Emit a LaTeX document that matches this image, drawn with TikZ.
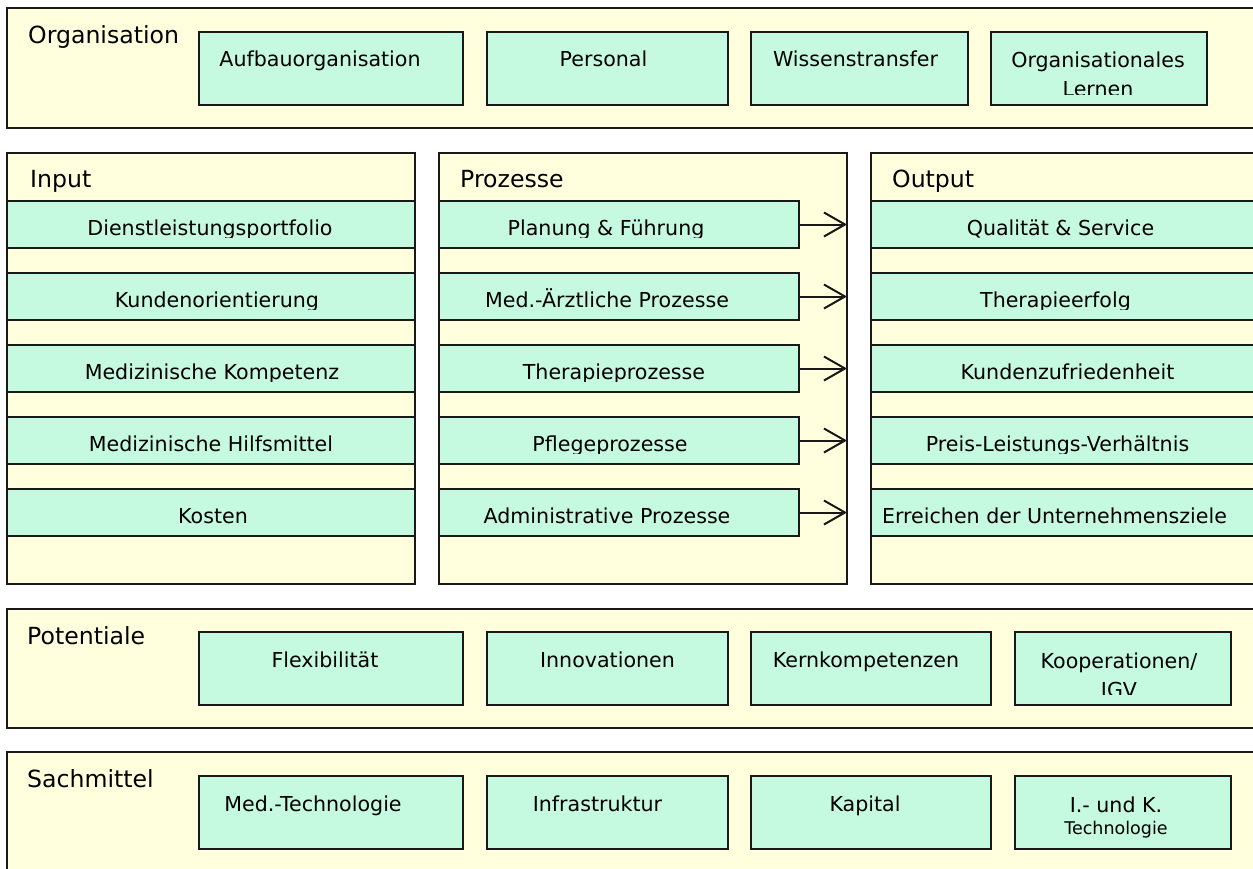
\documentclass[tikz,border=0pt]{standalone}
\usepackage{fontspec}
\setmainfont{DejaVu Sans}
\usetikzlibrary{arrows.meta}
\definecolor{beige}{RGB}{255,255,222}
\definecolor{mint}{RGB}{198,250,224}
\definecolor{edge}{RGB}{25,25,25}
\tikzset{
  frame/.style={draw=edge, line width=2pt, fill=beige, inner sep=0pt, outer sep=0pt},
  ibox/.style={draw=edge, line width=2pt, fill=mint, inner sep=0pt, outer sep=0pt},
  grp/.style={font=\fontsize{23.6}{28}\selectfont, inner sep=0pt, anchor=base west},
  itxt/.style={font=\fontsize{20.6}{29}\selectfont, inner sep=0pt, anchor=base, align=center},
  flow/.style={draw=edge, line width=2pt, -{Straight Barb[length=21pt,width=24pt]}}
}
\newcommand\panel[5]{%
  \node[frame, minimum width={(#4-#2)*1pt}, minimum height={(#5-#3)*1pt}] (#1) at ({(#2+#4)/2},{(#3+#5)/2}) {};}
% optional #1: vertical offset of the (last) text baseline from the box top
\newcommand\ibx[8][-34.5]{%
  \node[ibox, minimum width={(#5-#3)*1pt}, minimum height={(#6-#4)*1pt}] (#2) at ({(#3+#5)/2},{(#4+#6)/2}) {};
  \begin{scope}
    \clip (#2.north west) rectangle ([yshift=11pt]#2.south east);
    \node[itxt] (#2-t) at ([xshift=#7pt, yshift=#1pt]#2.north) {#8};
  \end{scope}}
\begin{document}
\begin{tikzpicture}[x=1pt,y=-1pt]
\useasboundingbox (0,0) rectangle (1253,868);
\clip (0,0) rectangle (1253,868);
\fill[white] (0,0) rectangle (1253,868);

% panels
\panel{org}{7}{8}{1262}{128}
\panel{inp}{7}{153}{415}{584}
\panel{proz}{439}{153}{847}{584}
\panel{outp}{871}{153}{1262}{584}
\panel{pot}{7}{609}{1262}{728}
\panel{sach}{7}{752}{1262}{880}

% panel labels
\node[grp] (org-l) at (28,43) {Organisation};
\node[grp] (inp-l) at (30,187) {Input};
\node[grp] (proz-l) at (460,187) {Prozesse};
\node[grp] (outp-l) at (892,187) {Output};
\node[grp] (pot-l) at (27,644) {Potentiale};
\node[grp] (sach-l) at (27,787) {Sachmittel};

% Organisation
\ibx{aufbau}{199}{32}{463}{105}{-11}{Aufbauorganisation}
\ibx{personal}{487}{32}{728}{105}{-4}{Personal}
\ibx{wissen}{751}{32}{968}{105}{-4}{Wissenstransfer}
\ibx[-64]{orglern}{991}{32}{1207}{105}{-1}{Organisationales\\Lernen}

% Input
\ibx{dienst}{7}{201}{415}{248}{-1}{Dienstleistungsportfolio}
\ibx{kunden}{7}{273}{415}{320}{6}{Kundenorientierung}
\ibx{medkomp}{7}{345}{415}{392}{1}{Medizinische Kompetenz}
\ibx{hilfs}{7}{417}{415}{464}{0}{Medizinische Hilfsmittel}
\ibx{kosten}{7}{489}{415}{536}{2}{Kosten}

% Prozesse
\ibx{plan}{439}{201}{799}{248}{-13}{Planung \& Führung}
\ibx{medarzt}{439}{273}{799}{320}{-12}{Med.-Ärztliche Prozesse}
\ibx{therap}{439}{345}{799}{392}{-5}{Therapieprozesse}
\ibx{pflege}{439}{417}{799}{464}{-9}{Pflegeprozesse}
\ibx{admin}{439}{489}{799}{536}{-12}{Administrative Prozesse}

% Output
\ibx{qual}{871}{201}{1262}{248}{-6}{Qualität \& Service}
\ibx{erfolg}{871}{273}{1262}{320}{-11}{Therapieerfolg}
\ibx{zufried}{871}{345}{1262}{392}{1}{Kundenzufriedenheit}
\ibx{preis}{871}{417}{1262}{464}{-9}{Preis-Leistungs-Verhältnis}
\ibx{ziele}{871}{489}{1262}{536}{-12}{Erreichen der Unternehmensziele}

% Potentiale
\ibx[-35.5]{flex}{199}{632}{463}{705}{-6}{Flexibilität}
\ibx[-35.5]{innov}{487}{632}{728}{705}{0}{Innovationen}
\ibx[-35.5]{kern}{751}{632}{991}{705}{-5}{Kernkompetenzen}
\ibx[-65]{koop}{1015}{632}{1231}{705}{-4}{Kooperationen/\\IGV}

% Sachmittel
\ibx[-35.5]{medtech}{199}{776}{463}{849}{-18}{Med.-Technologie}
\ibx[-35.5]{infra}{487}{776}{728}{849}{-10}{Infrastruktur}
\ibx[-35.5]{kapital}{751}{776}{991}{849}{-6}{Kapital}
\ibx[-58]{iuk}{1015}{776}{1231}{849}{-7}{I.- und K.\\[-7pt]{\fontsize{17.5}{21}\selectfont Technologie}}

% arrows
\foreach \n in {plan,medarzt,therap,pflege,admin}
  \draw[flow] (\n.east) -- (\n.east -| proz.east);
\end{tikzpicture}
\end{document}
